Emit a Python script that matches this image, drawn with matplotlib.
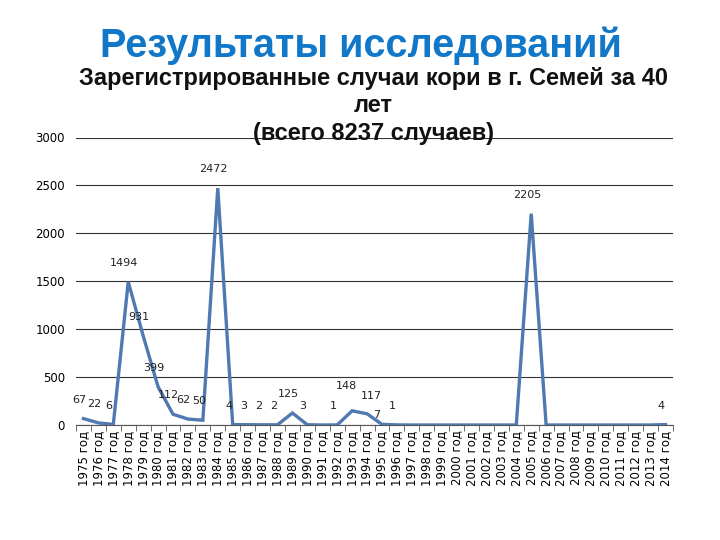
import matplotlib
matplotlib.use("Agg")
import matplotlib.pyplot as plt
from matplotlib.ticker import FixedLocator, MultipleLocator

years = list(range(1975, 2015))
tick_labels = [f"{y} год" for y in years]
cases = [67, 22, 6, 1494, 931, 399, 112, 62, 50, 2472,
         4, 3, 2, 2, 125, 3, 0, 1, 148, 117,
         7, 1, 0, 0, 0, 0, 0, 0, 0, 0,
         2205, 0, 0, 0, 0, 0, 0, 0, 0, 4]

main_title = "Результаты исследований"
chart_title = "Зарегистрированные случаи кори в г. Семей за 40\nлет\n(всего 8237 случаев)"

# label nudges (points) to mimic the reference's label placement
label_nudge = {1993: (-4, 14), 1994: (3, 9), 1995: (-4, 3)}

fig = plt.figure(figsize=(7.2, 5.4), dpi=100)
ax = fig.add_axes([76 / 720, 1 - 425 / 540, (673 - 76) / 720, (425 - 137.5) / 540])

x = list(range(len(years)))
ax.plot(x, cases, color="#4F79B0", linewidth=2.4, solid_joinstyle="miter", zorder=3)

for xi, yr, v in zip(x, years, cases):
    if v == 0:
        continue
    off = label_nudge.get(yr, (-3, 10))
    ax.annotate(str(v), (xi, v), xytext=off, textcoords="offset points",
                ha="center", va="bottom", fontsize=8, color="#222222", zorder=4)

ax.set_xlim(-0.5, len(years) - 0.5)
ax.set_ylim(0, 3000)
ax.yaxis.set_major_locator(MultipleLocator(500))
ax.grid(axis="y", color="#333333", linewidth=0.8, zorder=0)
ax.set_axisbelow(True)

ax.set_xticks(x)
ax.set_xticklabels(tick_labels, rotation=90, fontsize=8.5)
ax.xaxis.set_minor_locator(FixedLocator([i - 0.5 for i in range(len(years) + 1)]))
ax.tick_params(axis="x", which="major", length=0, pad=4)
ax.tick_params(axis="x", which="minor", length=4, color="#555555")
ax.tick_params(axis="y", length=0, labelsize=8.5, pad=8)

for s in ["top", "right", "left"]:
    ax.spines[s].set_visible(False)
ax.spines["bottom"].set_color("#555555")

fig.text(361 / 720, 1 - 46 / 540, main_title, ha="center", va="center",
         fontsize=28.5, fontweight="bold", color="#1177C8", family="Liberation Sans")
fig.text(373 / 720, 1 - 106 / 540, chart_title, ha="center", va="center",
         fontsize=17, fontweight="bold", color="#111111", family="Liberation Sans",
         linespacing=1.25)

fig.savefig("out.png", dpi=100)
